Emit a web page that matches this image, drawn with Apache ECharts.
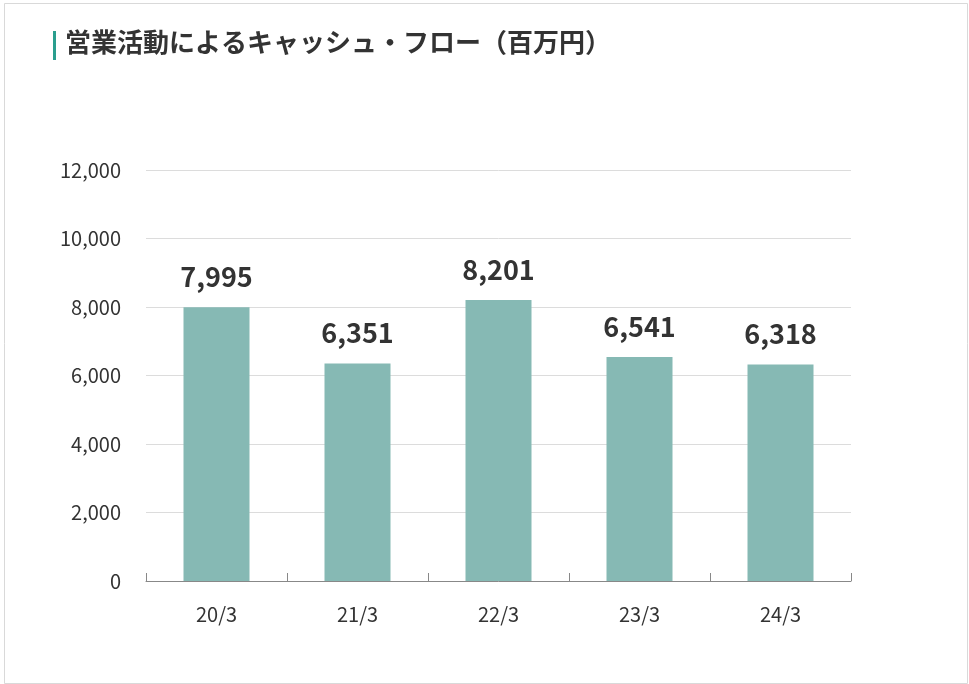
<!DOCTYPE html>
<html><head><meta charset="utf-8">
<script src="https://cdn.jsdelivr.net/npm/echarts@6/dist/echarts.min.js"></script>
<style>html,body{margin:0;padding:0;background:#fff}#c{width:969px;height:684px}</style>
</head><body><div id="c"></div>
<script>
const titleText = '営業活動によるキャッシュ・フロー（百万円）';
const categories = ['20/3', '21/3', '22/3', '23/3', '24/3'];
const values = [7995, 6351, 8201, 6541, 6318];
const yTicks = { min: 0, max: 12000, interval: 2000 };

const chart = echarts.init(document.getElementById('c'), null, { renderer: 'canvas' });
chart.setOption({
  backgroundColor: '#fff',
  animation: false,
  graphic: [
    { type: 'rect', left: 2, top: 1, shape: { x: 0, y: 0, width: 963, height: 680 }, style: { fill: 'none', stroke: '#d9d9d9', lineWidth: 1 } },
    { type: 'rect', left: 53, top: 31, shape: { x: 0, y: 0, width: 3, height: 29 }, style: { fill: '#2a9e8e' } },
    { type: 'text', left: 65, top: 29, style: { text: titleText, fill: '#333', font: 'bold 26px "Noto Sans CJK JP"' } }
  ],
  grid: { left: 146, right: 118, top: 170, bottom: 103 },
  xAxis: {
    type: 'category',
    data: categories,
    axisLine: { lineStyle: { color: '#888', width: 1 } },
    axisTick: { show: true, inside: true, length: 8, lineStyle: { color: '#888' } },
    axisLabel: { color: '#333', fontSize: 20, margin: 23, fontFamily: '"Noto Sans CJK JP", "Noto Sans"' }
  },
  yAxis: {
    type: 'value',
    min: yTicks.min, max: yTicks.max, interval: yTicks.interval,
    axisLine: { show: false },
    axisTick: { show: false },
    splitLine: { lineStyle: { color: '#dcdcdc' } },
    axisLabel: {
      color: '#333', fontSize: 20, margin: 25, fontFamily: '"Noto Sans CJK JP", "Noto Sans"',
      formatter: v => v.toLocaleString('en-US')
    }
  },
  series: [{
    type: 'bar',
    data: values,
    barWidth: 66,
    itemStyle: { color: '#86b9b4' },
    label: {
      show: true, position: 'top', distance: 17,
      color: '#333', fontSize: 27, fontWeight: 'bold', fontFamily: '"Noto Sans CJK JP", "Noto Sans"',
      formatter: p => p.value.toLocaleString('en-US')
    }
  }]
});
</script></body></html>
